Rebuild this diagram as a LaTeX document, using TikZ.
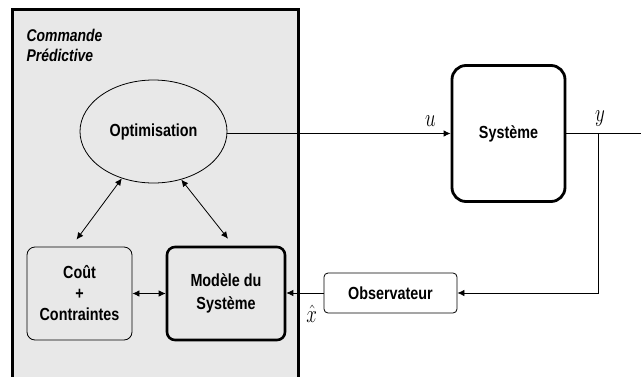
\documentclass[tikz,border=0pt]{standalone}
\usepackage{fontspec}
\setsansfont{Liberation Sans}[FakeStretch=0.82]
\usetikzlibrary{shapes.geometric,arrows.meta}
\renewcommand{\familydefault}{\sfdefault}
\newcommand{\tall}[1]{\scalebox{1.1}[1.45]{#1}}
\newcommand{\taille}{\fontsize{17.5}{21}\selectfont}
\tikzset{
  bloc/.style={draw, rounded corners=8pt, line width=0.8pt, align=center, font=\taille\bfseries},
  grosbloc/.style={bloc, line width=2.6pt},
  sig/.style={line width=0.8pt}
}
\begin{document}
\begin{tikzpicture}[x=1pt,y=-1pt,font=\taille,>={Latex[length=7pt,width=6.5pt]}]
  \useasboundingbox (0,0) rectangle (641,376);
  % commande predictive
  \draw[line width=3pt, fill=black!9] (12,9) rectangle (298,382);
  \node[anchor=north west, align=left, font=\fontsize{17}{20}\selectfont\bfseries\itshape] (titre) at (23,26) {Commande\\Prédictive};
  \node[draw, ellipse, line width=0.8pt, minimum width=147, minimum height=103, font=\taille\bfseries] (opt) at (153.5,131.5) {Optimisation};
  \node[bloc, minimum width=105, minimum height=93] (cout) at (79.5,293.5) {Coût\\+\\Contraintes};
  \node[grosbloc, minimum width=118, minimum height=93, font=\fontsize{17.5}{23}\selectfont\bfseries] (mod) at (226,293.5) {Modèle du\\Système};
  \draw[sig,<->] (opt.236) -- ([shift={(-3,-7)}]cout.north);
  \draw[sig,<->] (opt.300) -- ([shift={(2,-7)}]mod.north);
  \draw[sig,<->] (cout.east) -- (mod.east -| mod.west);
  % boucle
  \node[grosbloc, rounded corners=14pt, line width=2.8pt, minimum width=113, minimum height=136, fill=white] (sys) at (508.5,133.5) {Système};
  \node[bloc, rounded corners=4pt, minimum width=133, minimum height=40, fill=white] (obs) at (390.5,293) {Observateur};
  \coordinate (br) at (598,133.5);
  \coordinate (sortie) at (641,133.5);
  \draw[sig,->] (opt.east |- sys.west) -- (sys.west) node[pos=0.91, above=3pt] {\tall{$u$}};
  \draw[sig] (sys.east) -- (sortie) node[pos=0.45, above=3pt] {\tall{$y$}};
  \draw[sig,->] (br) |- (obs.east);
  \draw[sig,->] (obs.west) -- (mod.east |- obs.west) node[pos=0.32, below=8pt] {\tall{$\hat{x}$}};
\end{tikzpicture}
\end{document}
